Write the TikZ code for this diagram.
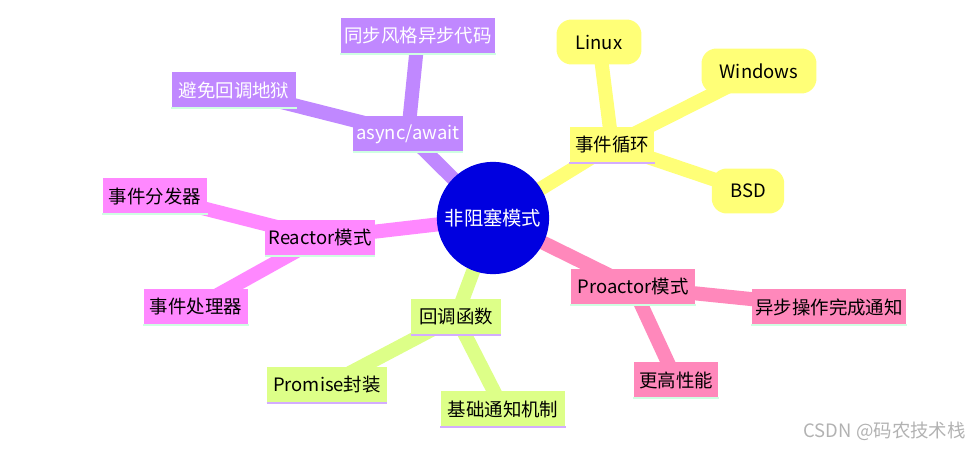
\documentclass[tikz,border=0pt]{standalone}
\usepackage{fontspec}
\setmainfont{Noto Sans CJK SC}
\definecolor{rootblue}{HTML}{0000E0}
\definecolor{loopyel}{HTML}{FFFF77}
\definecolor{proapink}{HTML}{FF88BB}
\definecolor{cbgreen}{HTML}{DDFF88}
\definecolor{reamag}{HTML}{FF88FF}
\definecolor{asyncpur}{HTML}{C088FF}
\tikzset{
  box/.style={rectangle, inner sep=0pt, minimum height=0.72cm, text width=#1, align=center, font=\fontsize{10.5}{12}\selectfont},
  leaf/.style={rounded corners=0.3cm, inner sep=0pt, minimum height=0.9cm, text width=#1, align=center, font=\fontsize{10.5}{12}\selectfont},
  branch/.style={line width=#1, line cap=round},
}
\begin{document}
\begin{tikzpicture}[x=0.02cm, y=-0.02cm]
\useasboundingbox (0,0) rectangle (975,449);
%% Kanten
\coordinate (r) at (493,218);
\draw[branch=8pt, loopyel] (r) -- (612,145) (612,145) -- (599,42) (612,145) -- (759,71) (612,145) -- (748,191);
\draw[branch=8pt, proapink] (r) -- (633,287) (633,287) -- (829,307) (633,287) -- (676,380);
\draw[branch=8pt, cbgreen] (r) -- (456,317) (456,317) -- (327,385) (456,317) -- (503,409);
\draw[branch=8pt, reamag] (r) -- (320,238) (320,238) -- (155,196) (320,238) -- (196,307);
\draw[branch=8pt, asyncpur] (r) -- (408,134) (408,134) -- (234,90) (408,134) -- (418,36);

%% Wurzel
\node[circle, fill=rootblue, minimum size=2.1cm, text=white, font=\fontsize{11}{12}\selectfont] (root) at (r) {非阻塞模式};

%% Ereignisschleife
\node[box=1.7cm, fill=loopyel] (loop) at (612,145) {事件循环};
\draw[asyncpur!70, line width=1.2pt] (loop.south west) -- (loop.south east);
\node[leaf=1.7cm, fill=loopyel] (linux) at (599,42) {Linux};
\node[leaf=2.3cm, fill=loopyel] (win) at (759,71) {Windows};
\node[leaf=1.45cm, fill=loopyel] (bsd) at (748,191) {BSD};

%% Proactor
\node[box=2.5cm, fill=proapink] (proa) at (633,287) {Proactor模式};
\node[box=3.1cm, fill=proapink] (notify) at (829,307) {异步操作完成通知};
\node[box=1.7cm, fill=proapink] (perf) at (676,380) {更高性能};
\foreach \n in {proa,notify,perf}
  \draw[cbgreen!60!cyan!40, line width=1.2pt] (\n.south west) -- (\n.south east);

%% Callback
\node[box=1.8cm, fill=cbgreen] (cb) at (456,317) {回调函数};
\node[box=2.4cm, fill=cbgreen] (prom) at (327,385) {Promise封装};
\node[box=2.5cm, fill=cbgreen] (basic) at (503,409) {基础通知机制};
\foreach \n in {cb,prom,basic}
  \draw[asyncpur!70, line width=1.2pt] (\n.south west) -- (\n.south east);

%% Reactor
\node[box=2.2cm, fill=reamag] (rea) at (320,238) {Reactor模式};
\node[box=2.1cm, fill=reamag] (disp) at (155,196) {事件分发器};
\node[box=2.1cm, fill=reamag] (hand) at (196,307) {事件处理器};
\foreach \n in {rea,disp,hand}
  \draw[cbgreen!60!cyan!40, line width=1.2pt] (\n.south west) -- (\n.south east);

%% async/await
\node[box=2.2cm, fill=asyncpur, text=white] (aw) at (408,134) {async/await};
\node[box=2.5cm, fill=asyncpur, text=white] (hell) at (234,90) {避免回调地狱};
\node[box=3.1cm, fill=asyncpur, text=white] (sync) at (418,36) {同步风格异步代码};
\foreach \n in {aw,hell,sync}
  \draw[cbgreen!60!cyan!40, line width=1.2pt] (\n.south west) -- (\n.south east);

\node[text=gray!60, font=\fontsize{10.5}{12}\selectfont, anchor=east] (mark) at (972,431) {CSDN @码农技术栈};
\end{tikzpicture}
\end{document}
